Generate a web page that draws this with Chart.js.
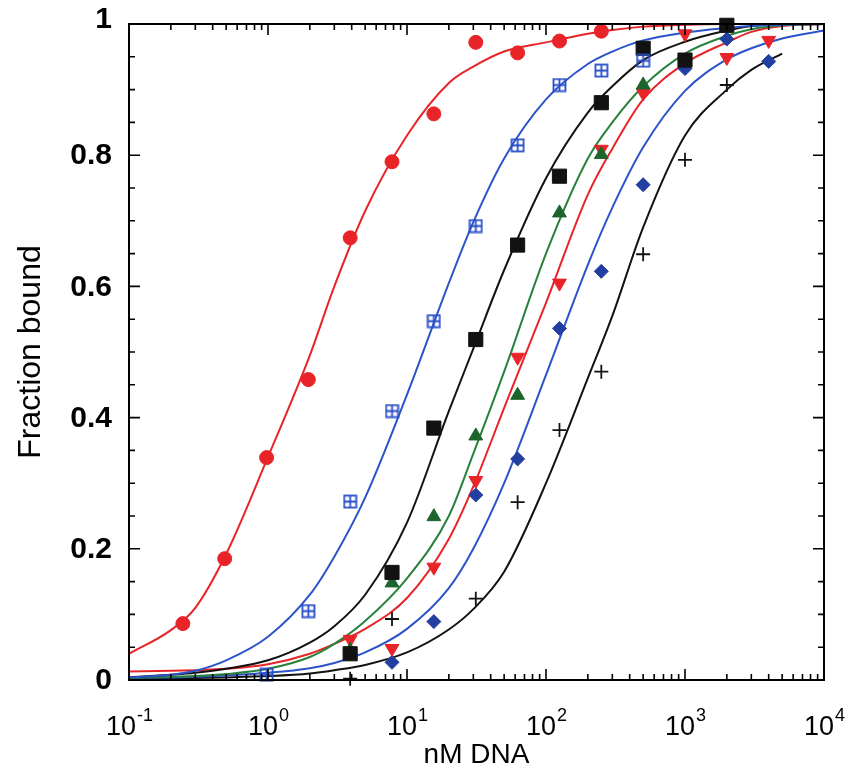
<!DOCTYPE html>
<html>
<head>
<meta charset="utf-8">
<script src="https://cdn.jsdelivr.net/npm/chart.js@4.4.1/dist/chart.umd.min.js"></script>
<style>
  html, body { margin: 0; padding: 0; background: #fff; }
  #wrap { width: 858px; height: 766px; }
</style>
</head>
<body>
<div id="wrap"><canvas id="binding-chart" width="858" height="766"></canvas></div>
<script>
// Binding curves: fraction bound vs nM DNA (log axis)
// measured points (2-fold dilution series)
const redCircX = [0.244, 0.488, 0.977, 1.95, 3.9, 7.8, 15.6, 31.25, 62.5, 125, 250];
const redCircY = [0.086, 0.185, 0.339, 0.458, 0.674, 0.79, 0.863, 0.972, 0.956, 0.974, 0.989];

const blueSqX = [0.977, 1.95, 3.9, 7.8, 15.6, 31.25, 62.5, 125, 250, 500];
const blueSqY = [0.008, 0.105, 0.272, 0.41, 0.547, 0.692, 0.815, 0.907, 0.929, 0.944];

const blackSqX = [3.9, 7.8, 15.6, 31.25, 62.5, 125, 250, 500, 1000, 2000];
const blackSqY = [0.04, 0.164, 0.384, 0.519, 0.663, 0.768, 0.88, 0.963, 0.945, 0.998];

const greenTriX = [3.9, 7.8, 15.6, 31.25, 62.5, 125, 250, 500];
const greenTriY = [0.045, 0.148, 0.249, 0.372, 0.434, 0.712, 0.801, 0.907];

const redTriX = [3.9, 7.8, 15.6, 31.25, 62.5, 125, 250, 500, 1000, 2000, 4000];
const redTriY = [0.062, 0.048, 0.172, 0.304, 0.492, 0.605, 0.809, 0.895, 0.985, 0.949, 0.975];

const blueDiaX = [7.8, 15.6, 31.25, 62.5, 125, 250, 500, 1000, 2000, 4000];
const blueDiaY = [0.027, 0.089, 0.282, 0.337, 0.536, 0.623, 0.755, 0.932, 0.977, 0.943];

const plusX = [3.9, 7.8, 31.25, 62.5, 125, 250, 500, 1000, 2000];
const plusY = [0.002, 0.093, 0.124, 0.271, 0.381, 0.47, 0.649, 0.793, 0.907];

// fitted curves on a common x grid
const fitX = [0.1, 0.2, 0.3, 0.5, 1, 2, 3, 5, 10, 20, 30, 50, 100, 200, 300, 500, 1000, 2000, 3000, 5000, 10000];
const redFitY =     [0.040, 0.076, 0.110, 0.192, 0.340, 0.495, 0.600, 0.715, 0.830, 0.910, 0.935, 0.958, 0.972, 0.985, 0.991, 0.996, 0.999, 1.0, 1.0, 1.0, 1.0];
const blueFitY =    [0.004, 0.008, 0.014, 0.030, 0.066, 0.130, 0.188, 0.278, 0.435, 0.605, 0.698, 0.795, 0.885, 0.939, 0.958, 0.975, 0.987, 0.994, 0.997, 0.999, 1.0];
const blackFitY =   [0.004, 0.008, 0.011, 0.017, 0.030, 0.057, 0.082, 0.130, 0.240, 0.410, 0.505, 0.625, 0.765, 0.865, 0.905, 0.945, 0.973, 0.990, 0.997, 1.0, 1.0];
const greenFitY =   [0.003, 0.005, 0.006, 0.009, 0.017, 0.035, 0.055, 0.090, 0.155, 0.250, 0.345, 0.470, 0.650, 0.795, 0.850, 0.905, 0.955, 0.982, 0.992, 0.998, 1.0];
const redTriFitY =  [0.013, 0.014, 0.015, 0.017, 0.024, 0.040, 0.055, 0.078, 0.125, 0.215, 0.295, 0.415, 0.575, 0.740, 0.810, 0.885, 0.940, 0.972, 0.988, 0.997, 1.0];
const blueDiaFitY = [0.003, 0.004, 0.005, 0.007, 0.011, 0.018, 0.026, 0.042, 0.078, 0.140, 0.200, 0.300, 0.465, 0.633, 0.720, 0.812, 0.898, 0.946, 0.963, 0.978, 0.990];
const plusFitY =    [0.002, 0.002, 0.003, 0.004, 0.006, 0.010, 0.015, 0.023, 0.042, 0.077, 0.108, 0.165, 0.300, 0.460, 0.555, 0.690, 0.830, 0.900, 0.930, 0.955, null];

const yTickVals = [0, 0.2, 0.4, 0.6, 0.8, 1];
const yTickLabels = ['0', '0.2', '0.4', '0.6', '0.8', '1'];
const xDecades = [-1, 0, 1, 2, 3, 4];

const RED = 'rgb(232,36,40)';
const BLUE = 'rgb(44,84,200)';
const NAVY = 'rgb(34,62,160)';
const GREEN_LINE = 'rgb(40,130,60)';
const GREEN = 'rgb(30,100,45)';
const BLACK = 'rgb(18,18,18)';
const FONT = '"Liberation Sans", Arial, Helvetica, sans-serif';

function pts(xs, ys) {
  return xs.map((x, i) => ({ x: x, y: ys[i] }));
}

// open square with a cross inside
function gridSquare() {
  const c = document.createElement('canvas');
  c.width = 15; c.height = 15;
  const g = c.getContext('2d');
  g.strokeStyle = 'rgb(40,78,200)';
  g.lineWidth = 1.8;
  g.strokeRect(1.5, 1.5, 12, 12);
  g.beginPath();
  g.moveTo(7.5, 2); g.lineTo(7.5, 13);
  g.moveTo(2, 7.5); g.lineTo(13, 7.5);
  g.stroke();
  return c;
}

function fitLine(ys, color) {
  return {
    data: pts(fitX, ys),
    showLine: true,
    borderColor: color,
    borderWidth: 2,
    pointRadius: 0,
    cubicInterpolationMode: 'monotone',
    spanGaps: false,
    order: 2
  };
}

function markers(xs, ys, style, radius, color, extra) {
  return Object.assign({
    data: pts(xs, ys),
    showLine: false,
    pointStyle: style,
    pointRadius: radius,
    backgroundColor: color,
    borderColor: color,
    borderWidth: 1,
    clip: false,
    order: 1
  }, extra || {});
}

const frameAndLabels = {
  id: 'frameAndLabels',
  afterDatasetsDraw(chart) {
    const ctx = chart.ctx;
    const xs = chart.scales.x;
    const ys = chart.scales.y;
    const a = chart.chartArea;
    ctx.save();
    ctx.strokeStyle = '#000';
    ctx.lineWidth = 2;
    ctx.strokeRect(a.left, a.top, a.right - a.left, a.bottom - a.top);

    // x ticks, inward, top and bottom
    ctx.lineWidth = 1.6;
    ctx.beginPath();
    xDecades.forEach(d => {
      const base = Math.pow(10, d);
      for (let k = 1; k <= 9; k++) {
        if (d === 4 && k > 1) break;
        const px = xs.getPixelForValue(k * base);
        const len = k === 1 ? 11 : 6;
        ctx.moveTo(px, a.bottom); ctx.lineTo(px, a.bottom - len);
        ctx.moveTo(px, a.top); ctx.lineTo(px, a.top + len);
      }
    });
    // y ticks every 0.05, major every 0.2
    for (let i = 0; i <= 20; i++) {
      const py = ys.getPixelForValue(i * 0.05);
      const len = i % 4 === 0 ? 11 : 6;
      ctx.moveTo(a.left, py); ctx.lineTo(a.left + len, py);
      ctx.moveTo(a.right, py); ctx.lineTo(a.right - len, py);
    }
    ctx.stroke();

    ctx.fillStyle = '#000';
    // y tick labels
    ctx.font = 'bold 30px ' + FONT;
    ctx.textAlign = 'right';
    ctx.textBaseline = 'middle';
    yTickVals.forEach((v, i) => {
      const off = v === 1 ? -4 : 1;
      ctx.fillText(yTickLabels[i], a.left - 17, ys.getPixelForValue(v) + off);
    });

    // x tick labels 10^n
    ctx.textBaseline = 'alphabetic';
    ctx.textAlign = 'left';
    xDecades.forEach(d => {
      const px = xs.getPixelForValue(Math.pow(10, d));
      const exp = String(d);
      ctx.font = '27px ' + FONT;
      const wBase = ctx.measureText('10').width;
      ctx.font = '18px ' + FONT;
      const wExp = ctx.measureText(exp).width;
      const x0 = px - (wBase + wExp) / 2;
      ctx.font = '27px ' + FONT;
      ctx.fillText('10', x0, a.bottom + 55);
      ctx.font = '18px ' + FONT;
      ctx.fillText(exp, x0 + wBase + 1, a.bottom + 41);
    });

    // axis titles
    ctx.textAlign = 'center';
    ctx.font = '28px ' + FONT;
    ctx.fillText('nM DNA', (a.left + a.right) / 2, a.bottom + 83);
    ctx.save();
    ctx.translate(40, (a.top + a.bottom) / 2);
    ctx.rotate(-Math.PI / 2);
    ctx.font = '32px ' + FONT;
    ctx.fillText('Fraction bound', 0, 0);
    ctx.restore();
    ctx.restore();
  }
};

new Chart(document.getElementById('binding-chart'), {
  type: 'scatter',
  data: {
    datasets: [
      fitLine(redFitY, RED),
      fitLine(blueFitY, BLUE),
      fitLine(blackFitY, BLACK),
      fitLine(greenFitY, GREEN_LINE),
      fitLine(redTriFitY, RED),
      fitLine(blueDiaFitY, BLUE),
      fitLine(plusFitY, BLACK),
      markers(redCircX, redCircY, 'circle', 7, RED),
      markers(blueSqX, blueSqY, gridSquare(), 7, BLUE),
      markers(blackSqX, blackSqY, 'rect', 10, BLACK),
      markers(greenTriX, greenTriY, 'triangle', 8, GREEN),
      markers(redTriX, redTriY, 'triangle', 8, RED, { pointRotation: 180 }),
      markers(blueDiaX, blueDiaY, 'rectRot', 7, NAVY),
      markers(plusX, plusY, 'cross', 7, BLACK, { borderWidth: 1.8 })
    ]
  },
  plugins: [frameAndLabels],
  options: {
    responsive: false,
    devicePixelRatio: 1,
    animation: false,
    layout: { padding: { left: 129, right: 34, top: 24, bottom: 86 } },
    plugins: {
      legend: { display: false },
      tooltip: { enabled: false }
    },
    scales: {
      x: { type: 'logarithmic', min: 0.1, max: 10000, display: false },
      y: { type: 'linear', min: 0, max: 1, display: false }
    }
  }
});
</script>
</body>
</html>
